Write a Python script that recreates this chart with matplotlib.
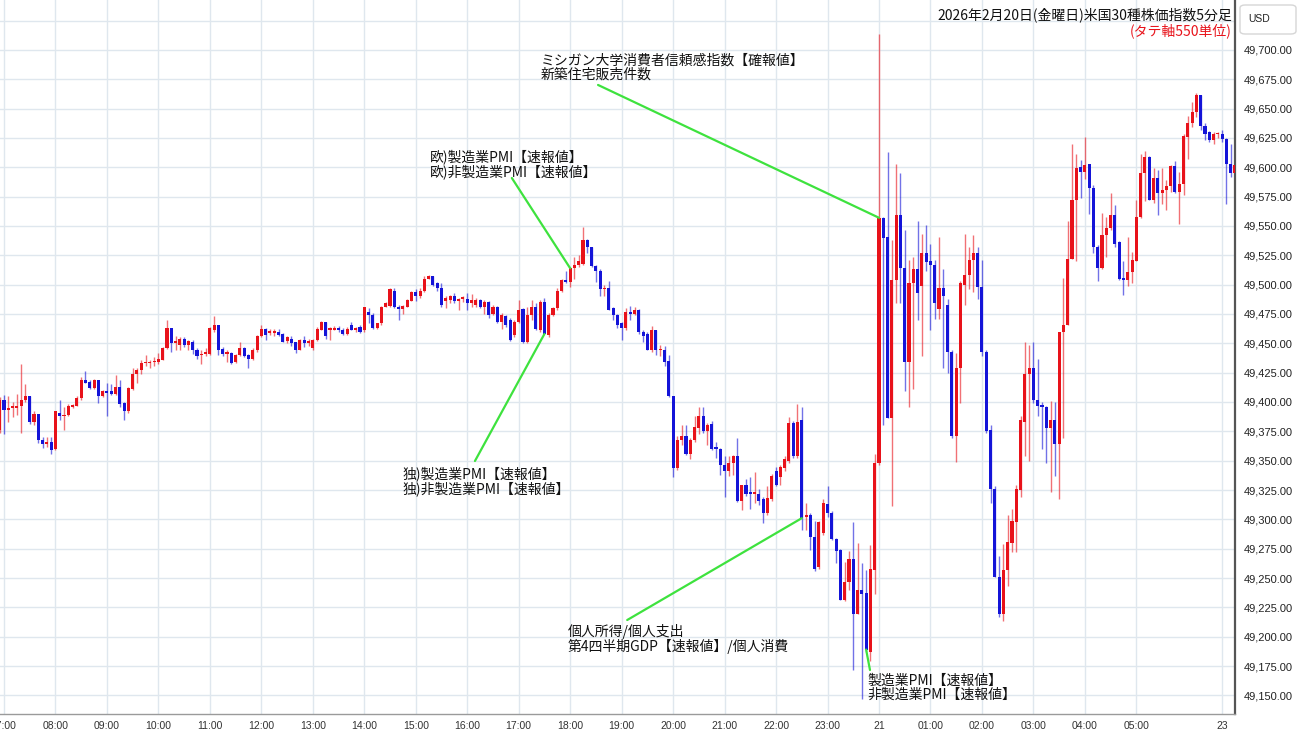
import numpy as np
import matplotlib
matplotlib.use("Agg")
import matplotlib.pyplot as plt
from matplotlib.patches import FancyBboxPatch

plt.rcParams['font.family'] = ['Noto Sans CJK JP', 'DejaVu Sans']

# 5分足 OHLC (2026/2/20 07:00頃 〜 2/23 朝)
opens = [
    49376, 49402, 49393, 49395, 49395, 49397, 49402, 49405, 49383, 49390, 49368, 49364,
    49366, 49360, 49391, 49388, 49389, 49396, 49397, 49403, 49419, 49417, 49412, 49419,
    49405, 49409, 49409, 49407, 49413, 49399, 49392, 49411, 49424, 49427, 49433, 49433,
    49434, 49434, 49436, 49446, 49463, 49450, 49449, 49454, 49449, 49451, 49444, 49440,
    49441, 49441, 49461, 49466, 49445, 49441, 49442, 49434, 49440, 49446, 49440, 49437,
    49444, 49456, 49462, 49459, 49459, 49460, 49458, 49452, 49454, 49451, 49444, 49453,
    49450, 49446, 49453, 49461, 49468, 49461, 49461, 49463, 49461, 49458, 49466, 49461,
    49464, 49461, 49477, 49474, 49463, 49467, 49481, 49482, 49495, 49481, 49479, 49481,
    49486, 49494, 49490, 49495, 49505, 49507, 49501, 49497, 49486, 49487, 49490, 49486,
    49488, 49488, 49484, 49483, 49487, 49481, 49485, 49475, 49481, 49468, 49473, 49470,
    49457, 49468, 49479, 49451, 49474, 49481, 49461, 49485, 49457, 49474, 49480, 49495,
    49504, 49502, 49514, 49517, 49518, 49538, 49532, 49516, 49512, 49496, 49497, 49480,
    49474, 49467, 49463, 49477, 49475, 49478, 49460, 49458, 49444, 49461, 49444, 49444,
    49435, 49405, 49344, 49368, 49371, 49356, 49368, 49378, 49388, 49375, 49381, 49361,
    49360, 49346, 49341, 49348, 49354, 49316, 49329, 49323, 49322, 49322, 49317, 49305,
    49317, 49341, 49336, 49344, 49350, 49382, 49354, 49385, 49302, 49304, 49285, 49259,
    49288, 49313, 49305, 49283, 49274, 49231, 49247, 49266, 49219, 49240, 49237, 49187,
    49257, 49348, 49557, 49541, 49386, 49504, 49559, 49514, 49434, 49501, 49513, 49499,
    49527, 49520, 49517, 49479, 49497, 49483, 49443, 49371, 49429, 49500, 49508, 49521,
    49527, 49498, 49443, 49376, 49326, 49251, 49219, 49257, 49280, 49298, 49325, 49383,
    49424, 49429, 49402, 49397, 49396, 49378, 49385, 49364, 49460, 49466, 49522, 49572,
    49600, 49596, 49603, 49582, 49532, 49514, 49542, 49548, 49559, 49536, 49505, 49504,
    49511, 49520, 49558, 49595, 49609, 49572, 49591, 49578, 49581, 49584, 49601, 49579,
    49586, 49626, 49638, 49647, 49662, 49635, 49630, 49623, 49628, 49628, 49624, 49603,
    49595,
]
highs = [
    49404, 49406, 49405, 49400, 49407, 49432, 49415, 49405, 49392, 49390, 49370, 49370,
    49370, 49392, 49402, 49396, 49398, 49398, 49405, 49421, 49426, 49419, 49420, 49419,
    49410, 49416, 49415, 49423, 49419, 49400, 49413, 49429, 49429, 49436, 49440, 49436,
    49438, 49442, 49447, 49470, 49463, 49456, 49455, 49455, 49453, 49453, 49446, 49444,
    49446, 49464, 49473, 49466, 49447, 49444, 49443, 49441, 49451, 49447, 49441, 49446,
    49457, 49466, 49463, 49462, 49462, 49462, 49459, 49456, 49456, 49451, 49454, 49456,
    49454, 49454, 49464, 49469, 49468, 49464, 49465, 49465, 49463, 49464, 49468, 49464,
    49466, 49481, 49480, 49476, 49467, 49482, 49485, 49497, 49497, 49483, 49483, 49488,
    49495, 49496, 49497, 49507, 49508, 49507, 49502, 49501, 49490, 49491, 49493, 49489,
    49490, 49493, 49492, 49489, 49488, 49487, 49486, 49483, 49482, 49476, 49474, 49472,
    49470, 49487, 49480, 49481, 49487, 49484, 49487, 49489, 49476, 49481, 49497, 49505,
    49512, 49515, 49524, 49525, 49549, 49539, 49532, 49517, 49513, 49500, 49503, 49481,
    49475, 49468, 49480, 49482, 49481, 49479, 49461, 49460, 49465, 49461, 49449, 49448,
    49440, 49405, 49371, 49380, 49380, 49369, 49388, 49396, 49396, 49382, 49384, 49366,
    49361, 49354, 49354, 49355, 49369, 49329, 49334, 49336, 49340, 49326, 49319, 49328,
    49339, 49345, 49346, 49354, 49387, 49384, 49398, 49396, 49314, 49305, 49299, 49299,
    49317, 49328, 49307, 49284, 49275, 49264, 49273, 49298, 49280, 49263, 49257, 49278,
    49356, 49714, 49558, 49613, 49538, 49603, 49595, 49547, 49521, 49524, 49554, 49543,
    49551, 49535, 49521, 49541, 49513, 49488, 49444, 49442, 49503, 49543, 49532, 49542,
    49532, 49521, 49444, 49380, 49328, 49269, 49279, 49304, 49309, 49329, 49388, 49451,
    49449, 49451, 49437, 49400, 49397, 49401, 49400, 49460, 49506, 49554, 49620, 49611,
    49606, 49626, 49603, 49585, 49534, 49561, 49558, 49578, 49568, 49537, 49520, 49541,
    49528, 49572, 49611, 49614, 49610, 49599, 49598, 49599, 49589, 49602, 49605, 49596,
    49628, 49644, 49656, 49663, 49662, 49638, 49631, 49630, 49630, 49632, 49625, 49620,
    49603,
]
lows = [
    49374, 49373, 49383, 49387, 49389, 49374, 49400, 49381, 49380, 49365, 49361, 49362,
    49356, 49359, 49385, 49376, 49388, 49395, 49397, 49402, 49416, 49411, 49411, 49399,
    49404, 49388, 49406, 49406, 49396, 49385, 49391, 49410, 49416, 49424, 49431, 49429,
    49431, 49432, 49436, 49445, 49443, 49444, 49444, 49447, 49444, 49441, 49437, 49432,
    49439, 49440, 49460, 49440, 49439, 49434, 49432, 49433, 49439, 49438, 49429, 49436,
    49443, 49455, 49453, 49457, 49456, 49456, 49451, 49450, 49448, 49442, 49444, 49447,
    49448, 49444, 49452, 49461, 49454, 49453, 49461, 49460, 49457, 49457, 49461, 49460,
    49459, 49460, 49467, 49462, 49462, 49466, 49481, 49481, 49480, 49470, 49475, 49481,
    49486, 49486, 49489, 49494, 49505, 49499, 49495, 49481, 49480, 49484, 49484, 49478,
    49485, 49478, 49481, 49481, 49480, 49475, 49472, 49474, 49467, 49462, 49464, 49452,
    49455, 49467, 49450, 49450, 49470, 49461, 49460, 49458, 49455, 49473, 49478, 49494,
    49501, 49498, 49505, 49515, 49517, 49527, 49515, 49502, 49490, 49490, 49478, 49470,
    49463, 49453, 49461, 49470, 49474, 49458, 49451, 49444, 49443, 49440, 49439, 49431,
    49404, 49336, 49342, 49363, 49355, 49351, 49366, 49373, 49374, 49363, 49359, 49352,
    49338, 49319, 49337, 49338, 49315, 49308, 49320, 49309, 49314, 49312, 49297, 49304,
    49316, 49328, 49329, 49341, 49348, 49352, 49352, 49291, 49291, 49274, 49256, 49258,
    49287, 49302, 49282, 49263, 49231, 49230, 49240, 49172, 49219, 49147, 49187, 49179,
    49236, 49346, 49380, 49386, 49311, 49484, 49484, 49409, 49396, 49411, 49470, 49439,
    49512, 49461, 49471, 49471, 49429, 49425, 49369, 49349, 49399, 49483, 49496, 49494,
    49488, 49439, 49374, 49314, 49251, 49217, 49213, 49243, 49272, 49272, 49319, 49354,
    49350, 49399, 49388, 49360, 49348, 49323, 49337, 49317, 49369, 49466, 49522, 49520,
    49574, 49590, 49560, 49527, 49503, 49513, 49524, 49547, 49532, 49504, 49491, 49499,
    49501, 49520, 49557, 49571, 49572, 49570, 49559, 49569, 49564, 49579, 49578, 49552,
    49576, 49607, 49634, 49643, 49632, 49623, 49622, 49620, 49625, 49622, 49569, 49592,
    49588,
]
closes = [
    49402, 49393, 49395, 49397, 49397, 49402, 49405, 49383, 49390, 49368, 49364, 49366,
    49359, 49392, 49388, 49389, 49397, 49397, 49403, 49419, 49416, 49412, 49419, 49405,
    49409, 49408, 49407, 49413, 49398, 49392, 49412, 49424, 49427, 49433, 49434, 49434,
    49435, 49437, 49446, 49463, 49450, 49452, 49454, 49449, 49452, 49444, 49439, 49441,
    49442, 49463, 49466, 49444, 49441, 49442, 49433, 49440, 49446, 49439, 49437, 49444,
    49456, 49462, 49457, 49460, 49460, 49457, 49451, 49455, 49450, 49444, 49453, 49450,
    49452, 49453, 49462, 49468, 49456, 49463, 49463, 49461, 49458, 49462, 49461, 49463,
    49460, 49481, 49474, 49463, 49467, 49481, 49484, 49496, 49481, 49479, 49482, 49487,
    49494, 49490, 49495, 49505, 49507, 49500, 49497, 49483, 49489, 49490, 49486, 49488,
    49488, 49484, 49487, 49487, 49481, 49485, 49474, 49481, 49468, 49474, 49466, 49453,
    49468, 49478, 49451, 49474, 49481, 49462, 49485, 49458, 49474, 49480, 49495, 49504,
    49502, 49514, 49517, 49520, 49538, 49532, 49516, 49512, 49496, 49497, 49478, 49474,
    49466, 49463, 49477, 49475, 49478, 49460, 49456, 49444, 49461, 49444, 49445, 49434,
    49405, 49344, 49368, 49371, 49356, 49368, 49379, 49388, 49375, 49380, 49360, 49360,
    49346, 49341, 49348, 49354, 49316, 49329, 49322, 49322, 49323, 49316, 49305, 49318,
    49337, 49329, 49345, 49351, 49382, 49354, 49383, 49301, 49303, 49285, 49258, 49298,
    49314, 49305, 49283, 49273, 49231, 49247, 49266, 49219, 49240, 49236, 49189, 49258,
    49348, 49557, 49540, 49386, 49504, 49559, 49514, 49434, 49501, 49513, 49493, 49527,
    49519, 49517, 49484, 49497, 49490, 49443, 49371, 49429, 49501, 49508, 49521, 49527,
    49498, 49443, 49375, 49326, 49251, 49219, 49257, 49281, 49299, 49326, 49385, 49424,
    49429, 49402, 49397, 49396, 49378, 49385, 49364, 49460, 49466, 49522, 49572, 49599,
    49596, 49602, 49582, 49532, 49514, 49542, 49548, 49559, 49535, 49505, 49504, 49511,
    49521, 49558, 49595, 49609, 49572, 49591, 49578, 49581, 49584, 49601, 49579, 49586,
    49627, 49638, 49647, 49662, 49635, 49628, 49623, 49628, 49628, 49624, 49603, 49595,
    49602,
]

# 時間軸ラベル (07:00 から1時間ごと、最後は週明け23日)
tick_labels = ["07:00", "08:00", "09:00", "10:00", "11:00", "12:00", "13:00", "14:00",
               "15:00", "16:00", "17:00", "18:00", "19:00", "20:00", "21:00", "22:00",
               "23:00", "21", "01:00", "02:00", "03:00", "04:00", "05:00", "23"]

# 指標発表 (テキスト, 対象の足)
events = [
    ("ミシガン大学消費者信頼感指数【確報値】\n新築住宅販売件数", 205),
    ("欧)製造業PMI【速報値】\n欧)非製造業PMI【速報値】", 133),
    ("独)製造業PMI【速報値】\n独)非製造業PMI【速報値】", 127),
    ("個人所得/個人支出\n第4四半期GDP【速報値】/個人消費", 187),
    ("製造業PMI【速報値】\n非製造業PMI【速報値】", 202),
]

title = "2026年2月20日(金曜日)米国30種株価指数5分足"
subtitle = "(タテ軸550単位)"

o = np.array(opens, dtype=float)
h = np.array(highs, dtype=float)
l = np.array(lows, dtype=float)
c = np.array(closes, dtype=float)
idx = np.arange(len(c))

UP = "#e8121a"
DOWN = "#1414d8"
GREEN = "#3ee23e"
GRID = "#dfe7ee"

fig = plt.figure(figsize=(13, 7.45), dpi=100)
ax = fig.add_axes([0, 31 / 745, 1235 / 1300, 714 / 745])

up = c >= o
cols = np.where(up, UP, DOWN)

# ヒゲ
ax.vlines(idx, l, h, colors=cols, linewidth=1.0, alpha=0.6, zorder=2)
# 実体
body = np.maximum(np.abs(c - o), 1.3)
ax.bar(idx, body, bottom=np.minimum(o, c), width=0.72, color=cols,
       linewidth=0, zorder=3)

# 軸
ax.set_xlim(0.07, 288.0)
ax.set_ylim(49134.1, 49742.6)

tick_pos = [1 + 12 * k for k in range(len(tick_labels) - 1)] + [285]
ax.set_xticks(tick_pos)
ax.set_xticklabels(tick_labels, family="Liberation Sans", fontsize=7.5, color="#333333")
yt = np.arange(49150, 49701, 25)
ax.set_yticks(yt)
ax.set_yticklabels([f"{v:,.2f}" for v in yt], family="Liberation Sans",
                   fontsize=8, color="#222222")
ax.yaxis.tick_right()
ax.tick_params(axis="both", length=0)
ax.tick_params(axis="y", pad=6)
ax.tick_params(axis="x", pad=5)

ax.grid(True, color=GRID, linewidth=1.0, zorder=0)
ax.axhline(49725, color=GRID, linewidth=1.0, zorder=0)
ax.set_axisbelow(True)

for s in ["left", "top"]:
    ax.spines[s].set_visible(False)
ax.spines["right"].set_color("#555555")
ax.spines["right"].set_linewidth(1.6)
ax.spines["bottom"].set_color("#9a9a9a")
ax.spines["bottom"].set_linewidth(1.0)

# 指標の注記
text_xy = [(126.2, 49697.0), (100.3, 49615.6), (94.0, 49345.5),
           (132.5, 49211.0), (202.4, 49168.2)]
line_start = [(139.5, 49670.2), (119.4, 49590.9), (110.8, 49349.7),
              (146.3, 49214.2), (202.9, 49171.6)]
for (txt, k), (tx, ty), (sx, sy) in zip(events, text_xy, line_start):
    ax.plot([sx, k], [sy, c[k]], color=GREEN, linewidth=1.6, zorder=5,
            solid_capstyle="round")
    ax.text(tx, ty, txt, ha="left", va="top", fontsize=10, color="#111111",
            linespacing=1.0, zorder=6)

# タイトル
ax.text(0.9976, 1 - 15 / 714, title, transform=ax.transAxes, ha="right",
        va="center", fontsize=10, color="#111111", zorder=6)
ax.text(0.9976, 1 - 31 / 714, subtitle, transform=ax.transAxes, ha="right",
        va="center", fontsize=10, color="#e8121a", zorder=6)

# 通貨ボックス
box = FancyBboxPatch((1240 / 1300, 1 - 34 / 745), 56 / 1300, 29 / 745,
                     boxstyle="round,pad=0,rounding_size=0.004",
                     transform=fig.transFigure, facecolor="white",
                     edgecolor="#d6d6d6", linewidth=1.0)
fig.patches.append(box)
fig.text(1248 / 1300, 1 - 19 / 745, "USD", family="Liberation Sans", fontsize=7.5,
         ha="left", va="center", color="#222222")

fig.savefig("out.png", dpi=100)
